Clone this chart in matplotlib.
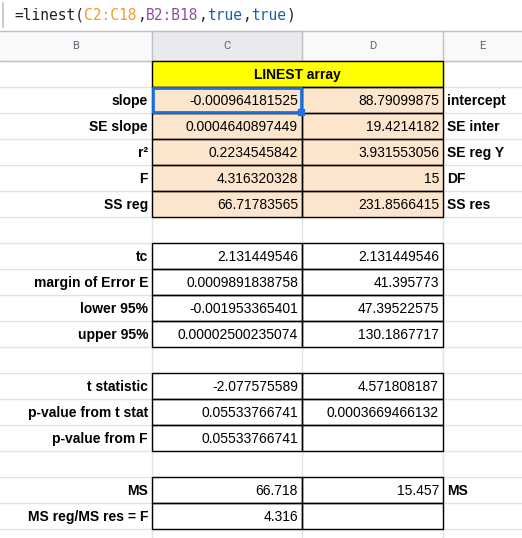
import matplotlib
matplotlib.use("Agg")
import matplotlib.pyplot as plt
from matplotlib.patches import Rectangle

W, H = 522, 538
fig = plt.figure(figsize=(W/100, H/100), dpi=100)
ax = fig.add_axes([0, 0, 1, 1])
ax.set_xlim(0, W); ax.set_ylim(H, 0); ax.axis("off")

col_letters = ["B", "C", "D", "E"]
col_x = [0, 152, 302, 443, 522]
row_top0, rh = 61, 26
nrows = 18

labels_b = ["", "slope", "SE slope", "r²", "F", "SS reg", "", "tc", "margin of Error E",
            "lower 95%", "upper 95%", "", "t statistic", "p-value from t stat",
            "p-value from F", "", "MS", "MS reg/MS res = F"]
values_c = ["", "-0.000964181525", "0.0004640897449", "0.2234545842", "4.316320328",
            "66.71783565", "", "2.131449546", "0.0009891838758", "-0.001953365401",
            "0.00002500235074", "", "-2.077575589", "0.05533766741", "0.05533766741",
            "", "66.718", "4.316"]
values_d = ["", "88.79099875", "19.4214182", "3.931553056", "15", "231.8566415", "",
            "2.131449546", "41.395773", "47.39522575", "130.1867717", "", "4.571808187",
            "0.0003669466132", "", "", "15.457", ""]
labels_e = ["", "intercept", "SE inter", "SE reg Y", "DF", "SS res", "", "", "", "", "",
            "", "", "", "", "", "MS", ""]
title = "LINEST array"

FONT = "Liberation Sans"
fs = 10

def rtop(i):
    return row_top0 + i * rh

# formula bar
ax.plot([0, W], [31, 31], color="#c0c0c0", lw=1)
ax.plot([3, 3], [3, 27], color="#c0c0c0", lw=1.2)
parts = [("=linest(", "#202124"), ("C2:C18", "#f29b2e"), (",", "#202124"),
         ("B2:B18", "#8e4ea3"), (",", "#202124"), ("true", "#1a5fb4"), (",", "#202124"),
         ("true", "#1a5fb4"), (")", "#202124")]
ffs = 10.5
cw = 0.602 * ffs * 100 / 72
x = 14
for t, c in parts:
    ax.text(x, 15, t, color=c, fontsize=ffs, family="DejaVu Sans Mono", va="center", ha="left")
    x += cw * len(t)

# column header
ax.add_patch(Rectangle((0, 31), W, 30, color="#f8f9fa"))
ax.add_patch(Rectangle((152, 31), 150, 30, color="#e8eaed"))
for i, L in enumerate(col_letters):
    ax.text((col_x[i] + col_x[i+1]) / 2, 46, L, fontsize=8, color="#5f6368",
            family="Roboto", ha="center", va="center")
for xv in col_x[1:-1]:
    ax.plot([xv, xv], [31, 61], color="#c0c0c0", lw=1)
ax.plot([0, W], [61, 61], color="#c0c0c0", lw=1)

# gridlines
for i in range(nrows + 1):
    ax.plot([0, W], [rtop(i)] * 2, color="#e2e3e3", lw=1, zorder=1)
for xv in col_x[1:-1]:
    ax.plot([xv, xv], [61, H], color="#e2e3e3", lw=1, zorder=1)

# fills
ax.add_patch(Rectangle((152, rtop(0)), 291, rh, color="#ffff00", zorder=2))
ax.text((152 + 443) / 2, rtop(0) + rh / 2 + 1, title, fontsize=fs, weight="bold",
        family=FONT, ha="center", va="center", zorder=5)
for i in range(1, 6):
    ax.add_patch(Rectangle((152, rtop(i)), 291, rh, color="#fce5cd", zorder=2))

# borders
def box(x0, x1, r0, r1):
    ax.add_patch(Rectangle((x0, rtop(r0)), x1 - x0, rtop(r1) - rtop(r0), fill=False,
                           ec="black", lw=1, zorder=3))
for i in range(1, 6):
    box(152, 302, i, i + 1); box(302, 443, i, i + 1)
box(152, 443, 0, 1)
for i in list(range(7, 11)) + list(range(12, 15)) + [16, 17]:
    box(152, 302, i, i + 1); box(302, 443, i, i + 1)

# selection
ax.add_patch(Rectangle((153, rtop(1) + 1), 148, rh - 2, fill=False, ec="#1a73e8", lw=2, zorder=6))
ax.add_patch(Rectangle((298, rtop(2) - 4), 6, 6, color="#1a73e8", zorder=7))

for i in range(nrows):
    y = rtop(i) + rh / 2 + 1
    if labels_b[i]:
        ax.text(148, y, labels_b[i], fontsize=fs, weight="bold", family=FONT,
                ha="right", va="center", zorder=5)
    if values_c[i]:
        ax.text(298, y, values_c[i], fontsize=fs, family=FONT, ha="right", va="center", zorder=5)
    if values_d[i]:
        ax.text(439, y, values_d[i], fontsize=fs, family=FONT, ha="right", va="center", zorder=5)
    if labels_e[i]:
        ax.text(447, y, labels_e[i], fontsize=fs, weight="bold", family=FONT,
                ha="left", va="center", zorder=5)

fig.savefig("out.png", dpi=100)
